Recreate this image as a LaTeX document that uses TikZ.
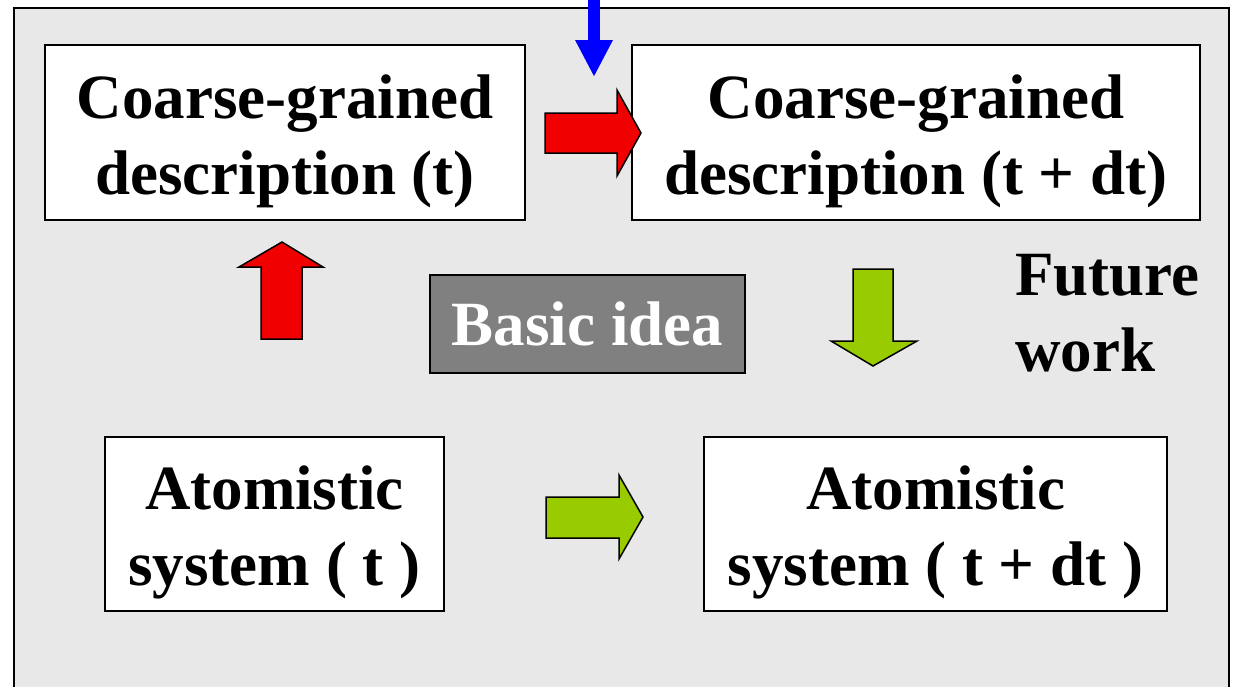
\documentclass[tikz,border=0pt]{standalone}
\usepackage{fontspec}
\setmainfont{Liberation Serif}
\usetikzlibrary{arrows.meta}
\definecolor{panelgray}{RGB}{232,232,232}
\definecolor{ideagray}{RGB}{128,128,128}
\definecolor{leafgreen}{RGB}{153,204,0}
\definecolor{hotred}{RGB}{240,0,0}
\newcommand{\tallstrut}{\rule{0pt}{61pt}}

\begin{document}
\begin{tikzpicture}[x=1pt, y=-1pt, semithick,
        bigtext/.style={font=\bfseries\fontsize{63}{76}\selectfont},
        desc/.style={bigtext, draw, line width=1.5pt, fill=white, align=center,
            inner sep=0pt, minimum height=175pt},
        blockarrow/.style={draw, line width=1.5pt, line join=miter}]
    \useasboundingbox (0,0) rectangle (1234,686);
    \clip (0,0) rectangle (1234,686);
    \draw[fill=panelgray, line width=2pt] (14,8) rectangle (1229,720);

    % the four states
    \node[desc, minimum width=480pt] (cg0) at (285,132.5) {\tallstrut Coarse-grained\\description (t)};
    \node[desc, minimum width=568pt] (cg1) at (916,132.5) {\tallstrut Coarse-grained\\description (t + dt)};
    \node[desc, minimum width=339pt, minimum height=174pt] (at0) at (274.5,524) {\tallstrut Atomistic\\system ( t )};
    \node[desc, minimum width=463pt, minimum height=174pt] (at1) at (935.5,524) {\tallstrut Atomistic\\system ( t + dt )};

    \node[bigtext, draw, line width=1.5pt, fill=ideagray, text=white, inner sep=0pt,
        minimum width=315pt, minimum height=98pt] (idea) at (587.5,324) {Basic idea};
    \node[bigtext, align=left, anchor=west, inner sep=0pt] (future) at (1015,313) {Future\\work};

    % block arrows
    \filldraw[blockarrow, fill=hotred] (545,113) -- (617,113) -- (617,90) -- (641,133)
        -- (617,176) -- (617,153) -- (545,153) -- cycle;
    \filldraw[blockarrow, fill=hotred] (261,339) -- (261,267) -- (239,267) -- (282,242)
        -- (323,267) -- (302,267) -- (302,339) -- cycle;
    \filldraw[blockarrow, fill=leafgreen] (853,269) -- (893,269) -- (893,341) -- (917,341)
        -- (873,366) -- (831,341) -- (853,341) -- cycle;
    \filldraw[blockarrow, fill=leafgreen] (546,497) -- (619,497) -- (619,475) -- (643,517)
        -- (619,559) -- (619,538) -- (546,538) -- cycle;

    % input from above
    \coordinate (feed) at (594,0);
    \coordinate (feedtip) at (594,77);
    \draw[blue, line width=12pt, -{Triangle[width=35pt,length=37pt]}] (feed) -- (feedtip);
\end{tikzpicture}
\end{document}
